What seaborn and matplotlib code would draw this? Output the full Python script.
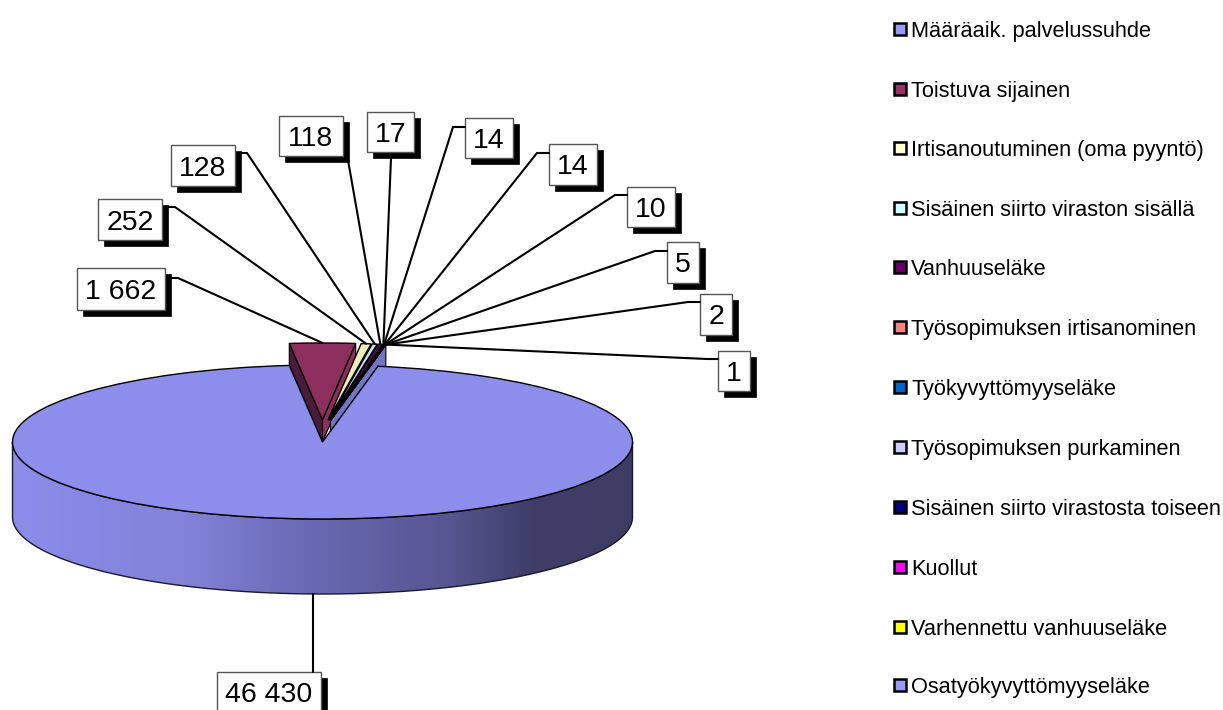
# exploded 3D style pie, legend on the right, boxed value labels

import numpy as np
import matplotlib
matplotlib.use("Agg")
import matplotlib.pyplot as plt
from matplotlib.colors import LinearSegmentedColormap, to_rgb
from matplotlib.patches import Polygon, Rectangle
import seaborn as sns

# ----------------------------------------------------------
# Data
# ----------------------------------------------------------

categories = [
    "Määräaik. palvelussuhde",
    "Toistuva sijainen",
    "Irtisanoutuminen (oma pyyntö)",
    "Sisäinen siirto viraston sisällä",
    "Vanhuuseläke",
    "Työsopimuksen irtisanominen",
    "Työkyvyttömyyseläke",
    "Työsopimuksen purkaminen",
    "Sisäinen siirto virastosta toiseen",
    "Kuollut",
    "Varhennettu vanhuuseläke",
    "Osatyökyvyttömyyseläke",
]
values = [46430, 1662, 252, 128, 118, 17, 14, 14, 10, 5, 2, 1]
legend_colors = ["#9999FF", "#993366", "#FFFFCC", "#CCFFFF", "#660066", "#FF8080",
                 "#0066CC", "#CCCCFF", "#000080", "#FF00FF", "#FFFF00", "#9999FF"]

# ----------------------------------------------------------
# Layout (pixels)
# ----------------------------------------------------------

W, H = 1223, 710
CX, CY, RX, RY = 322.5, 442, 310, 77
DEPTH = 75 / RY
EXPLODE_SMALL = 0.286

# label box: left, top, right, bottom / leader elbow
boxes = [(217, 672, 321, 713), (77, 268, 165, 310), (98, 199, 162, 240),
         (171, 145, 235, 186), (279, 116, 343, 156), (367, 112, 414, 152),
         (465, 118, 513, 158), (549, 144, 597, 185), (627, 187, 675, 227),
         (667, 242, 699, 283), (700, 294, 732, 335), (718, 351, 750, 391)]
elbows = [None, (178, 278), (175, 207), (247, 153), None, None,
          (453, 127), (537, 153), (615, 195), (655, 251), (688, 302), (707, 359)]
line_ends = [(313, 672), (171, 278), (168, 207), (241, 153), (348, 160), (391, 158),
             (465, 127), (549, 153), (627, 195), (667, 251), (700, 302), (718, 359)]
legend_y = [29, 89, 148, 208, 267, 327, 387, 447, 507, 567, 627, 685]

sns.set_theme(style="white")
plt.rcParams["font.family"] = ["Liberation Sans", "DejaVu Sans"]

fig = plt.figure(figsize=(W / 100, H / 100), dpi=100, facecolor="white")
ax = fig.add_axes([0, 0, 1, 1])

# ----------------------------------------------------------
# Pie (squashed by the axis limits)
# ----------------------------------------------------------

top_colors = [tuple(c * 0.92 for c in to_rgb(col)) for col in sns.color_palette(legend_colors)]
total = sum(values)
start = 90 + 180 * values[1] / total + 360 * values[0] / total

wedges, _ = ax.pie(values, colors=top_colors, startangle=start, counterclock=False,
                   explode=[0] + [EXPLODE_SMALL] * (len(values) - 1),
                   wedgeprops=dict(edgecolor="black", linewidth=1))
ax.set_aspect("auto")
xlim = ((0 - CX) / RX, (W - CX) / RX)
ylim = ((CY - H) / RY, CY / RY)

# the small slices sit closer together sideways than a plain explode puts them
for w in wedges[1:]:
    w.set_center((w.center[0] * 0.5, w.center[1]))


def side_face(angle, wedge, color, z, depth=DEPTH):
    t = np.deg2rad(angle)
    c = np.array(wedge.center)
    outer = c + [np.cos(t), np.sin(t)]
    d = np.array([0, depth])
    ax.add_patch(Polygon([outer, c, c - d, outer - d], closed=True, facecolor=color,
                         edgecolor="black", linewidth=0.8, zorder=z))


side_face(wedges[1].theta2, wedges[1], "#4A1B3A", 1)
side_face(wedges[1].theta1, wedges[1], top_colors[1], 1, depth=22 / RY)
side_face(wedges[-1].theta1, wedges[-1], "#7474C4", 1)

for w in wedges[1:]:
    w.set_zorder(2)
wedges[0].set_zorder(4)

# front wall with the shading running left to right
t = np.deg2rad(np.linspace(180, 360, 200))
x, y = np.cos(t), np.sin(t)
wall_xy = np.column_stack([np.r_[x, x[::-1]], np.r_[y, y[::-1] - DEPTH]])
wall_cmap = LinearSegmentedColormap.from_list(
    "wall", [(0, "#8C8CEB"), (0.28, "#8282D8"), (0.47, "#6A6AB6"),
             (0.71, "#55558F"), (0.84, "#3E3E69"), (1, "#3C3C64")])
img = ax.imshow(np.linspace(0, 1, 256)[None, :], extent=(-1, 1, -1 - DEPTH, 0), aspect="auto",
                cmap=wall_cmap, zorder=3)
outline = Polygon(wall_xy, closed=True, fill=False, edgecolor="#1A1A2A", linewidth=1, zorder=3.5)
ax.add_patch(outline)
img.set_clip_path(outline)

ax.set_xlim(xlim)
ax.set_ylim(ylim)
ax.axis("off")

# ----------------------------------------------------------
# Overlay in pixels: leaders, boxes, legend
# ----------------------------------------------------------

ov = fig.add_axes([0, 0, 1, 1], zorder=5)
ov.set_xlim(0, W)
ov.set_ylim(H, 0)
ov.axis("off")

for i, v in enumerate(values):
    w = wedges[i]
    mid = np.deg2rad((w.theta1 + w.theta2) / 2)
    sx = CX + RX * (w.center[0] + np.cos(mid))
    sy = CY - RY * (w.center[1] + np.sin(mid))
    if i == 0:
        sy += DEPTH * RY
        sx = line_ends[0][0]
    pts = [(sx, sy)] + ([elbows[i]] if elbows[i] else []) + [line_ends[i]]
    ov.plot(*zip(*pts), color="black", linewidth=1.5, solid_joinstyle="miter")

    x0, y0, x1, y1 = boxes[i]
    ov.add_patch(Rectangle((x0 + 6, y0 + 6), x1 - x0, y1 - y0, facecolor="black",
                           edgecolor="black", linewidth=0.5))
    ov.add_patch(Rectangle((x0, y0), x1 - x0, y1 - y0, facecolor="white",
                           edgecolor="#555555", linewidth=1))
    ov.text((x0 + x1) / 2, (y0 + y1) / 2, f"{v:,}".replace(",", " "), fontsize=20.5,
            color="black", ha="center", va="center_baseline")

for name, col, ly in zip(categories, legend_colors, legend_y):
    ov.add_patch(Rectangle((894, ly - 6), 12, 12, facecolor=col, edgecolor="black", linewidth=1.8))
    ov.text(911, ly, name, fontsize=15.65, color="black", ha="left", va="center_baseline")

fig.savefig("out.png", dpi=100)
